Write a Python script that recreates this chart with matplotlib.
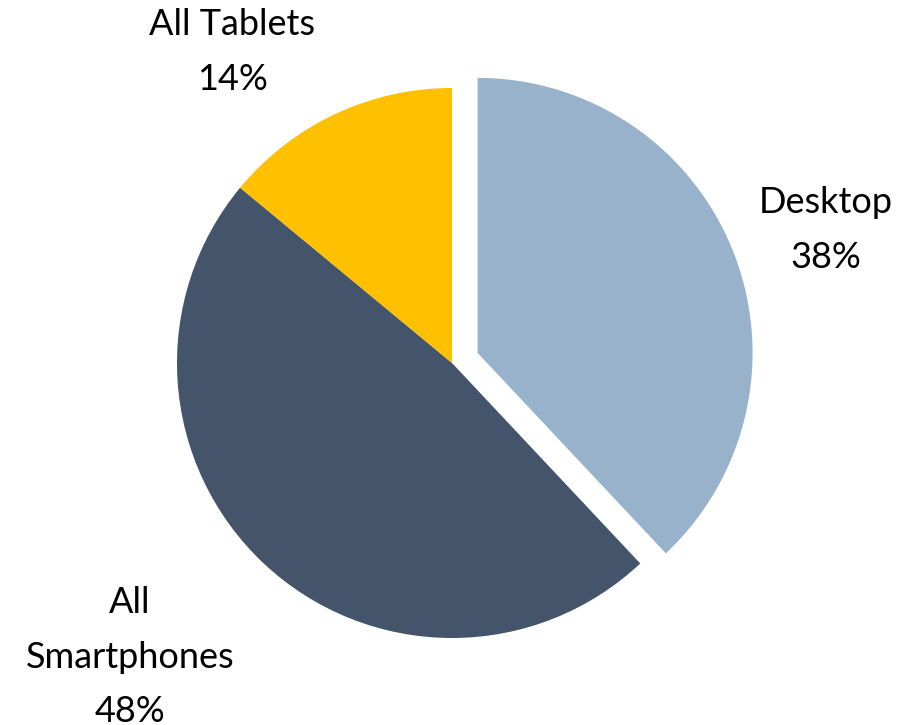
import matplotlib

matplotlib.use("Agg")
import matplotlib.pyplot as plt

# Traffic share by device
labels = ["Desktop", "All\nSmartphones", "All Tablets"]
shares = [38, 48, 14]
colors = ["#98B2CB", "#44546A", "#FFC000"]
explode = [0.1, 0, 0]

# label anchor points in data units (radius = 1)
label_pos = [(1.36, 0.484), (-1.171, -1.07), (-0.80, 1.131)]

plt.rcParams["font.family"] = ["Lato", "DejaVu Sans"]

fig = plt.figure(figsize=(8.99, 7.25), dpi=100)
ax = fig.add_axes([0, 0, 1, 1])

ax.pie(
    shares,
    colors=colors,
    explode=explode,
    startangle=90,
    counterclock=False,
    radius=1.0,
    wedgeprops={"linewidth": 0},
)

for lab, val, (x, y) in zip(labels, shares, label_pos):
    ax.text(x, y, f"{lab}\n{val}%", ha="center", va="center",
            fontsize=26, linespacing=1.8, color="black")

r_px = 275.0
cx, cy = 452.0, 363.0
ax.set_xlim(-cx / r_px, (899 - cx) / r_px)
ax.set_ylim(-(725 - cy) / r_px, cy / r_px)
ax.set_aspect("equal")
ax.axis("off")

fig.savefig("out.png", dpi=100)
